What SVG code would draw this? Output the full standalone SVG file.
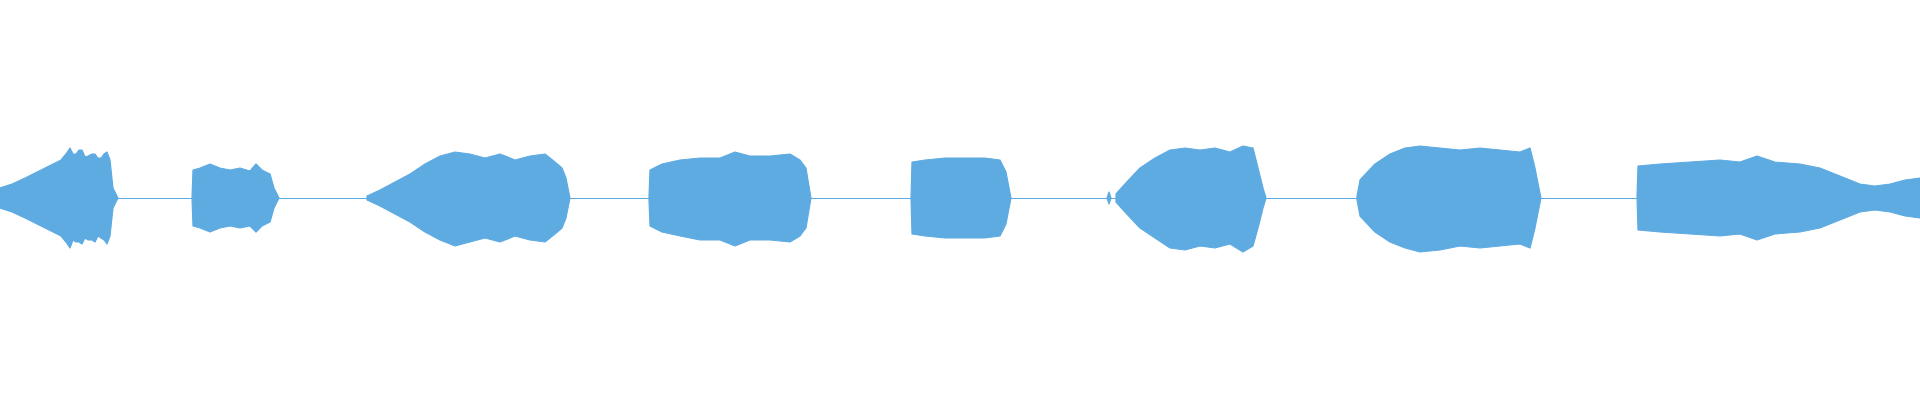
<svg xmlns="http://www.w3.org/2000/svg" width="1920" height="400" viewBox="0 0 1920 400">
<style>.w{fill:#5eabe2;stroke:#5eabe2;stroke-width:1.2;stroke-linejoin:round}.b{stroke:#5eabe2;stroke-width:1}</style>
<rect width="1920" height="400" fill="#fff"/>
<line class="b" x1="0" y1="198.5" x2="1920" y2="198.5"/>
<g id="seg1"><path class="w" d="M0 188L12 184 25 178 37 172 49 166 61 160 66 154 70 148 73 154 76 154 79 150 82 150 85 157 88 156 92 154 95 154 98 158 101 158 104 154 107 152 110 160 113 188 118 198 113 208 110 236 107 244 104 240 101 238 98 236 95 242 92 240 88 240 85 238 82 244 79 242 76 242 73 240 70 248 66 242 61 236 49 230 37 224 25 218 12 212 0 208Z"/></g>
<g id="seg2"><path class="w" d="M192 198L193 170 200 168 210 164 220 168 230 170 240 168 250 171 256 164 262 170 270 174 274 188 279 198 274 208 270 222 262 226 256 232 250 226 240 228 230 226 220 228 210 232 200 228 193 226Z"/></g>
<g id="seg3"><path class="w" d="M367 196L380 190 395 182 410 174 425 164 440 156 455 152 470 154 485 158 500 154 515 160 530 156 545 154 555 162 562 168 566 178 570 198 566 218 562 228 555 234 545 242 530 240 515 236 500 242 485 238 470 242 455 246 440 240 425 232 410 222 395 214 380 206 367 200Z"/></g>
<g id="seg4"><path class="w" d="M649 196L650 170 662 164 680 160 700 158 720 158 735 152 750 156 770 156 790 154 800 160 806 168 811 198 806 228 800 236 790 242 770 240 750 240 735 246 720 240 700 240 680 236 662 232 650 226 649 200Z"/></g>
<g id="seg5"><path class="w" d="M911 198L912 162 925 160 945 158 965 158 985 158 1000 160 1006 172 1011 198 1006 224 1000 236 985 238 965 238 945 238 925 236 912 234Z"/></g>
<g id="blip"><path class="w" d="M1107 198L1109 192 1111 198 1109 204Z"/></g>
<g id="seg6"><path class="w" d="M1116 194L1125 184 1140 168 1155 158 1170 150 1185 148 1200 150 1215 148 1230 152 1243 146 1253 148 1258 168 1263 188 1266 198 1263 208 1258 228 1253 246 1243 252 1230 244 1215 248 1200 246 1185 250 1170 248 1155 238 1140 228 1125 212 1116 202Z"/></g>
<g id="seg7"><path class="w" d="M1357 196L1360 180 1375 164 1390 154 1405 148 1420 146 1440 148 1460 150 1480 148 1500 150 1520 152 1530 148 1535 168 1541 198 1535 228 1530 248 1520 244 1500 246 1480 248 1460 246 1440 250 1420 252 1405 248 1390 242 1375 232 1360 216 1357 200Z"/></g>
<g id="seg8"><path class="w" d="M1637 196L1638 166 1660 164 1690 162 1720 160 1740 162 1757 156 1775 162 1800 164 1820 168 1840 176 1860 184 1875 186 1890 184 1905 180 1920 178 1920 218 1905 216 1890 212 1875 210 1860 212 1840 220 1820 228 1800 232 1775 234 1757 240 1740 234 1720 236 1690 234 1660 232 1638 230Z"/></g>
</svg>
